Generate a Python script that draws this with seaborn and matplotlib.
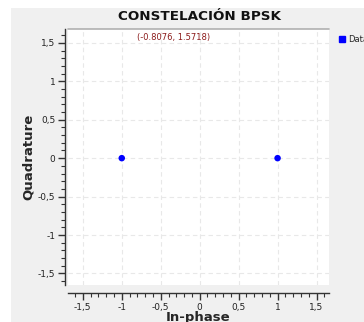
import numpy as np
import pandas as pd
import matplotlib
matplotlib.use("Agg")
import matplotlib.pyplot as plt
import seaborn as sns
from matplotlib.ticker import MultipleLocator, FuncFormatter
from matplotlib.patches import Rectangle

# constellation points (BPSK)
in_phase = [-1.0, 1.0]
quadrature = [0.0, 0.0]
series = ["Data", "Data"]
cursor_x, cursor_y = -0.8076, 1.5718

df = pd.DataFrame({"I": in_phase, "Q": quadrature, "serie": series})

sns.set_style("white")
plt.rcParams['font.family'] = ['DejaVu Sans']

fig = plt.figure(figsize=(3.64, 3.22), dpi=100, facecolor="white")
# gray panel behind everything
fig.patches.append(Rectangle((11 / 364, 0), 1, 1 - 8 / 322, transform=fig.transFigure,
                             facecolor="#f0f0f0", edgecolor="none", zorder=-5))

ax = fig.add_axes([68 / 364, 1 - 285 / 322, 261 / 364, 256 / 322])
ax.set_facecolor("white")

sns.scatterplot(data=df, x="I", y="Q", hue="serie", palette=["#0000ff"], marker="o",
                s=22, edgecolor="none", ax=ax, legend=False, zorder=3)

ax.set_xlim(-1.69, 1.66)
ax.set_ylim(-1.65, 1.68)

comma = FuncFormatter(lambda v, p: ("%g" % round(v, 2)).replace(".", ","))
for a in (ax.xaxis, ax.yaxis):
    a.set_major_locator(MultipleLocator(0.5))
    a.set_minor_locator(MultipleLocator(0.1))
    a.set_major_formatter(comma)

ax.tick_params(which="both", bottom=True, left=True, top=False, right=False,
               direction="out", color="#333333")
ax.tick_params(which="major", length=5, width=1, labelsize=6.5,
               labelcolor="#222222", pad=2)
ax.tick_params(which="minor", length=3, width=0.8)
ax.grid(True, which="major", linestyle=(0, (4, 3)), color="#e8e8e8", linewidth=0.8)

for s in ("top", "right"):
    ax.spines[s].set_visible(False)
ax.spines["left"].set_position(("outward", 2))
ax.spines["bottom"].set_position(("outward", 6))
ax.spines["left"].set_color("#333333")
ax.spines["bottom"].set_color("#333333")
ax.spines["left"].set_linewidth(1)
ax.spines["bottom"].set_linewidth(1)
# thin frame line on top of the canvas
ax.plot([0, 1], [1, 1], transform=ax.transAxes, color="#b0b0b0", lw=1.2, clip_on=False)

ax.set_xlabel("In-phase", fontsize=9.5, fontweight="bold")
ax.set_ylabel("Quadrature", fontsize=9.5, fontweight="bold")
ax.xaxis.set_label_coords(0.5, -0.100)
ax.yaxis.set_label_coords(-0.126, 0.5)
fig.text(199 / 364, 1 - 17 / 322, "CONSTELACIÓN BPSK", ha="center", va="center",
         fontsize=9.7, fontweight="bold", color="#111111")

ax.text(cursor_x, cursor_y, "(%.4f, %.4f)" % (cursor_x, cursor_y), ha="left", va="center",
        fontsize=6, color="#8b1a1a")

# legend outside on the right
fig.legend(handles=[plt.Line2D([], [], marker="s", linestyle="none", color="#0000ff",
                               markersize=4.5, label="Data")],
           loc="upper left", bbox_to_anchor=(332 / 364, 1 - 29 / 322), frameon=False,
           fontsize=6, handletextpad=0.2, handlelength=1, borderpad=0.2)

fig.savefig("out.png", dpi=100)
